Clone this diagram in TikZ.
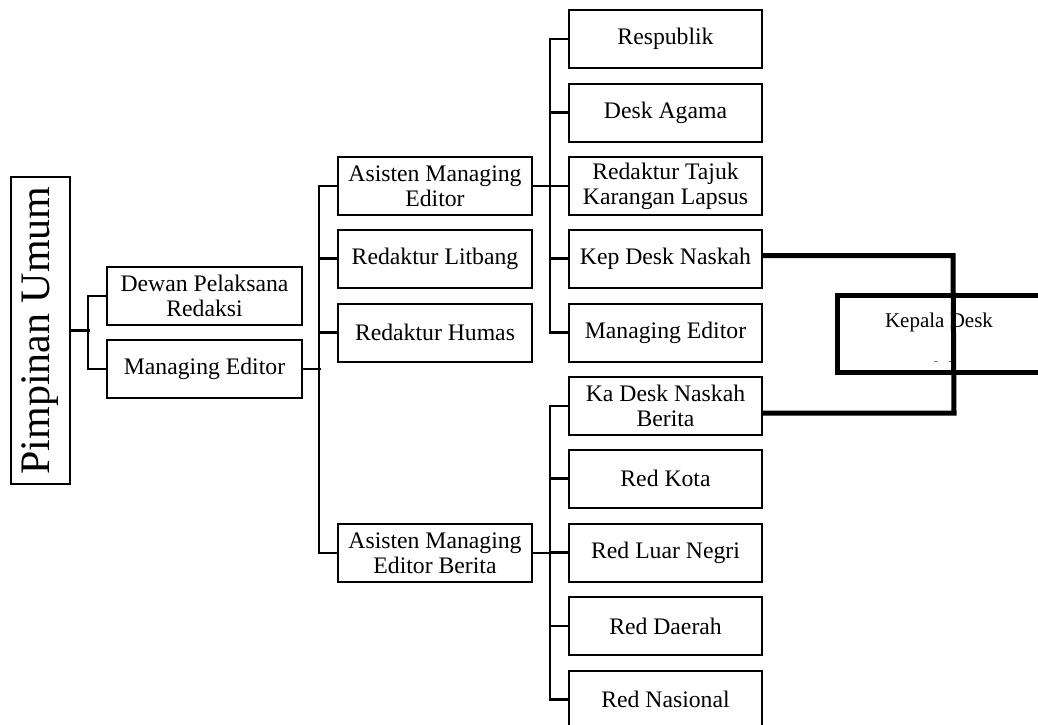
\documentclass[tikz,border=0pt]{standalone}
\usepackage{fontspec}
\setmainfont{Liberation Serif}
\begin{document}
\begin{tikzpicture}[x=1pt,y=-1pt,
  box/.style={draw, line width=2pt, minimum width=194pt, minimum height=58pt, inner sep=0pt, align=center, font=\fontsize{23.7}{25}\selectfont},
  conn/.style={line width=2.2pt},
  heavy/.style={line width=5pt, line join=miter},
  kdfont/.style={font=\fontsize{21}{21}\selectfont, inner sep=0pt, anchor=base}]
\useasboundingbox (0,0) rectangle (1038,724);
\clip (0,0) rectangle (1038,724);

% left
\node[box, minimum width=59pt, minimum height=307pt] (pu) at (40.5,330.5) {\rotatebox{90}{\fontsize{42}{42}\selectfont Pimpinan Umum}};
\node[box, minimum width=195pt] (dpr) at (204.5,296) {Dewan Pelaksana\\Redaksi};
\node[box, minimum width=195pt] (me1) at (204.5,369) {Managing Editor};

% middle
\node[box] (ame) at (435,186) {Asisten Managing\\Editor};
\node[box] (lit) at (435,258.5) {Redaktur Litbang};
\node[box] (hum) at (435,332.5) {Redaktur Humas};
\node[box] (ameb) at (435,553) {Asisten Managing\\Editor Berita};

% right
\node[box, minimum width=193pt] (r1) at (665.5,39) {Respublik};
\node[box, minimum width=193pt] (r2) at (665.5,112.5) {Desk Agama};
\node[box, minimum width=193pt] (r3) at (665.5,186) {Redaktur Tajuk\\Karangan Lapsus};
\node[box, minimum width=193pt] (r4) at (665.5,258.5) {Kep Desk Naskah};
\node[box, minimum width=193pt] (r5) at (665.5,332.5) {Managing Editor};
\node[box, minimum width=193pt] (r6) at (665.5,406) {Ka Desk Naskah\\Berita};
\node[box, minimum width=193pt] (r7) at (665.5,478.5) {Red Kota};
\node[box, minimum width=193pt] (r8) at (665.5,552.5) {Red Luar Negri};
\node[box, minimum width=193pt] (r9) at (665.5,626) {Red Daerah};
\node[box, minimum width=193pt] (r10) at (665.5,699.5) {Red Nasional};

% connectors
\draw[conn] (pu.east) -- ++(19,0);
\draw[conn] (dpr.west) -- ++(-18,0) |- (me1.west);
\draw[conn] (me1.east) -- ++(18,0);
\draw[conn] (ame.west) -- ++(-18,0) |- (ameb.west);
\draw[conn] (lit.west) -- ++(-18,0);
\draw[conn] (hum.west) -- ++(-18,0);
\draw[conn] (ame.east) -- ++(19,0);
\draw[conn] (r1.west) -- ++(-18,0) |- (r5.west);
\draw[conn] (r2.west) -- ++(-18,0);
\draw[conn] (r3.west) -- ++(-18,0);
\draw[conn] (r4.west) -- ++(-18,0);
\draw[conn] (ameb.east) -- ++(19,0);
\draw[conn] (r6.west) -- ++(-18,0) |- (r10.west);
\draw[conn] (r7.west) -- ++(-18,0);
\draw[conn] (r8.west) -- ++(-18,0);
\draw[conn] (r9.west) -- ++(-18,0);

% Kepala Desk box
\node[draw, line width=5pt, minimum width=222pt, minimum height=77pt, inner sep=0pt, outer sep=0pt] (kd) at (948.5,334) {};
\node[kdfont] (kdt) at (939,327) {Kepala Desk};
\begin{scope}
  \clip (840,300) rectangle (1038,361.5);
  \node[kdfont] (kdt2) at (939,376) {Redaksi};
\end{scope}

% heavy connector
\coordinate (ta) at (953,255.5);
\coordinate (tb) at (954,413);
\draw[heavy] (r4.east |- ta) -- (ta) -- (tb) -- (r6.east |- tb);
\end{tikzpicture}
\end{document}
